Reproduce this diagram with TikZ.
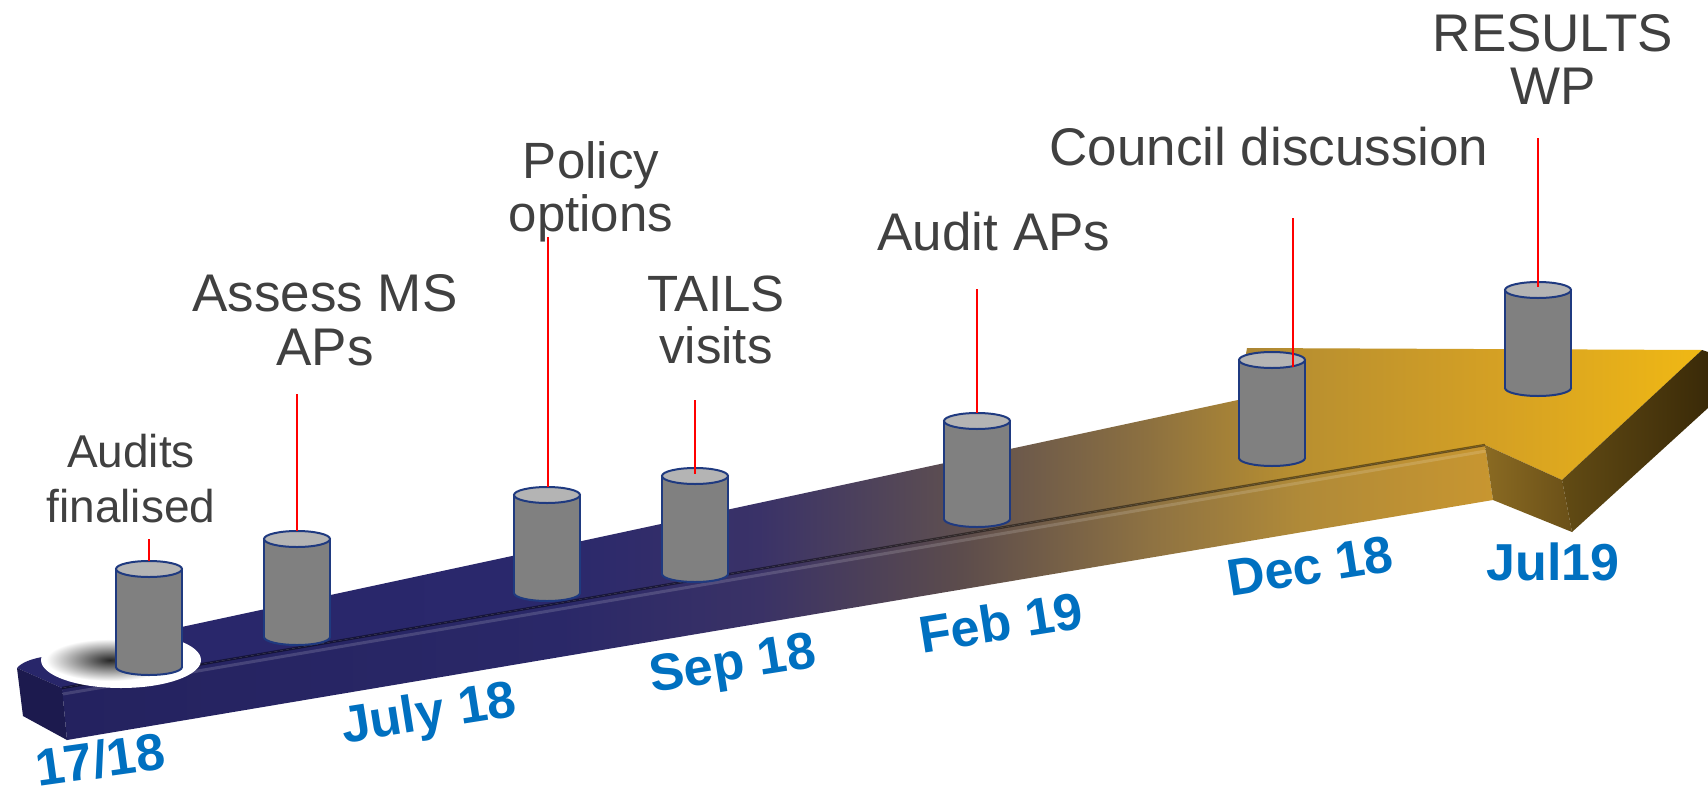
\documentclass[tikz,border=0pt]{standalone}
\usepackage{fontspec}
\setmainfont{Liberation Sans}
\definecolor{labelgray}{HTML}{404040}
\definecolor{dateblue}{HTML}{0070C0}
\definecolor{cylbodyc}{HTML}{808080}
\definecolor{cyltopc}{HTML}{B4B4B4}
\definecolor{cyledgec}{HTML}{1F3A80}
\definecolor{ta}{HTML}{28266A}
\definecolor{tb}{HTML}{2A286C}
\definecolor{tc}{HTML}{3A3268}
\definecolor{td}{HTML}{5E4F50}
\definecolor{te}{HTML}{8C7040}
\definecolor{tf}{HTML}{B88F30}
\definecolor{tg}{HTML}{D4A024}
\definecolor{th}{HTML}{F0B814}
\definecolor{fa}{HTML}{24225F}
\definecolor{fb}{HTML}{2A2868}
\definecolor{fc}{HTML}{3A3266}
\definecolor{fd}{HTML}{5C4C4C}
\definecolor{fe}{HTML}{8E7242}
\definecolor{ff}{HTML}{B08A38}
\definecolor{fg}{HTML}{C89630}
\definecolor{endfacec}{HTML}{1C1A4E}
\definecolor{headA}{HTML}{8A6A22}
\definecolor{headB}{HTML}{6A5018}
\definecolor{sideA}{HTML}{624B14}
\definecolor{sideB}{HTML}{3A2A08}
\pgfdeclarehorizontalshading{topshade}{100bp}{color(0bp)=(ta); color(25bp)=(ta); color(41.1bp)=(tb); color(47bp)=(tc); color(52.9bp)=(td); color(58.5bp)=(te); color(62.9bp)=(tf); color(68.8bp)=(tg); color(75bp)=(th); color(100bp)=(th)}
\pgfdeclarehorizontalshading{frontshade}{100bp}{color(0bp)=(fa); color(25bp)=(fa); color(42.4bp)=(fb); color(49.4bp)=(fc); color(56.4bp)=(fd); color(63bp)=(fe); color(68.3bp)=(ff); color(75bp)=(fg); color(100bp)=(fg)}
\tikzset{
  drum/.pic={
    \fill[cylbodyc] (0,98) ellipse [x radius=33, y radius=8];
    \draw[cyledgec, line width=2pt] (0,98) ellipse [x radius=33, y radius=8];
    \fill[cylbodyc] (-33,0) rectangle (33,98);
    \draw[cyledgec, line width=2pt] (-33,0) -- (-33,98) (33,0) -- (33,98);
    \filldraw[fill=cyltopc, draw=cyledgec, line width=2pt] (0,0) ellipse [x radius=33, y radius=8];
  },
  redline/.style={red, line width=2.8pt},
  lbl/.style={text=labelgray, align=center, inner sep=0pt, anchor=north},
  datelbl/.style={text=dateblue, inner sep=0pt, anchor=center, font=\fontsize{52}{52}\selectfont\bfseries}
}
\begin{document}
\begin{tikzpicture}[x=1pt,y=-1pt]
\useasboundingbox[fill=white] (0,0) rectangle (1708,787);
% arrow body
\shade[shading=topshade] (42,657) -- (1238,400) -- (1247,348) -- (1702,350) -- (1562,480) -- (1485,445) -- (62,688) -- (17,668) .. controls (22,662) and (32,659) .. (42,657) -- cycle;
\shade[shading=frontshade] (62,688) -- (1485,445) -- (1493,500) -- (67,740) -- cycle;
\fill[endfacec] (17,668) -- (62,688) -- (67,740) -- (23,716) -- cycle;
\shade[left color=headA, right color=headB] (1485,445) -- (1562,480) -- (1572,532) -- (1493,500) -- cycle;
\shade[left color=sideA, right color=sideB] (1562,480) -- (1702,350) -- (1708,352) -- (1708,408) -- (1572,532) -- cycle;
\draw[black, opacity=.45, line width=2.5pt] (62,688) -- (1485,445);
\draw[white, opacity=.15, line width=3pt] (63,694) -- (1486,451);
% start patch
\fill[white] (121,660) ellipse [x radius=80, y radius=28];
\shade[inner color=black!85, outer color=white] (110,660) ellipse [x radius=64, y radius=21];
% cylinders
\pic (d1) at (149,569) {drum};
\pic (d2) at (297,539) {drum};
\pic (d3) at (547,495) {drum};
\pic (d4) at (695,476) {drum};
\pic (d5) at (977,421) {drum};
\pic (d6) at (1272,360) {drum};
\pic (d7) at (1538,290) {drum};
% line end points
\coordinate (t1) at (149,561); \coordinate (s1) at (149,539);
\coordinate (t2) at (297,531); \coordinate (s2) at (297,394);
\coordinate (t3) at (548,487); \coordinate (s3) at (548,237);
\coordinate (t4) at (695,474); \coordinate (s4) at (695,400);
\coordinate (t5) at (977,413); \coordinate (s5) at (977,289);
\coordinate (t6) at (1293,367); \coordinate (s6) at (1293,218);
\coordinate (t7) at (1538,287); \coordinate (s7) at (1538,138);
\foreach \i in {1,...,7} { \draw[redline] (s\i) -- (t\i); }
% labels
\node[lbl, font=\fontsize{46}{55}\selectfont] (L1) at (131,434) {Audits\\finalised};
\node[lbl, font=\fontsize{53}{54}\selectfont] (L2) at (325,274) {Assess MS\\APs};
\node[lbl, font=\fontsize{51}{53}\selectfont] (L3) at (591,141) {Policy\\options};
\node[lbl, font=\fontsize{51}{52}\selectfont] (L4) at (716,276) {TAILS\\visits};
\node[lbl, font=\fontsize{53}{53}\selectfont] (L5) at (994,212) {Audit APs};
\node[lbl, font=\fontsize{53}{53}\selectfont] (L6) at (1269,127) {Council discussion};
\node[lbl, font=\fontsize{53}{53}\selectfont] (L7) at (1553,14) {RESULTS\\WP};
% dates
\node[datelbl, rotate=8] (D1) at (100,759) {17/18};
\node[datelbl, rotate=9] (D2) at (429,716) {July 18};
\node[datelbl, rotate=9] (D3) at (733,667) {Sep 18};
\node[datelbl, rotate=9] (D4) at (1001,622) {Feb 19};
\node[datelbl, rotate=9] (D5) at (1310,566) {Dec 18};
\node[datelbl] (D6) at (1553,562) {Jul19};
\end{tikzpicture}
\end{document}
